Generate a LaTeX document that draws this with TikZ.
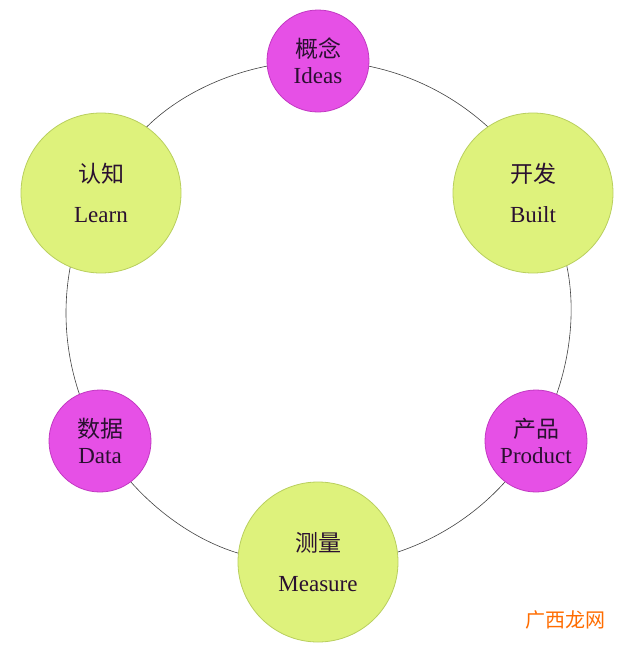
\documentclass[tikz,border=0pt]{standalone}
\usepackage{fontspec}
\setmainfont{Liberation Serif}
\newfontfamily\cjk{Noto Sans CJK SC}
\usetikzlibrary{arrows.meta}
\definecolor{gfill}{HTML}{DEF27C}
\definecolor{gline}{HTML}{B9CF5E}
\definecolor{mfill}{HTML}{E650E6}
\definecolor{mline}{HTML}{C238C2}
\definecolor{txt}{HTML}{2A1030}
\tikzset{
 big/.style={circle,fill=gfill,draw=gline,line width=0.8pt,minimum size=160pt,inner sep=0pt,align=center,text=txt,font=\fontsize{23}{40}\selectfont},
 small/.style={circle,fill=mfill,draw=mline,line width=0.8pt,minimum size=102pt,inner sep=0pt,align=center,text=txt,font=\fontsize{23}{32}\selectfont},
 ring/.style={draw=black!75,line width=0.6pt},
 tip/.style={-{Latex[length=15pt,width=11pt]}}
}
\begin{document}
\begin{tikzpicture}[x=1pt,y=-1pt]
\useasboundingbox (0,0) rectangle (640,648);
\coordinate (o) at (318,313);
% ring
\draw[ring] (o) ++(90:252) arc[start angle=90,end angle=29,radius=252];
\draw[ring,tip] (o) ++(29:252) arc[start angle=29,end angle=-19,radius=252];
\draw[ring] (o) ++(-30:252) arc[start angle=-30,end angle=-90,radius=252];
\draw[ring,tip] (o) ++(-90:252) arc[start angle=-90,end angle=-138.5,radius=252];
\draw[ring] (o) ++(-150:252) arc[start angle=-150,end angle=-210,radius=252];
\draw[ring,tip] (o) ++(150:252) arc[start angle=150,end angle=101.5,radius=252];
% nodes
\node[small] (ideas) at (318,61) {{\cjk 概念}\\[-6pt]Ideas};
\node[big] (built) at (533,193) {{\cjk 开发}\\Built};
\node[small] (product) at (536,441) {{\cjk 产品}\\[-6pt]Product};
\node[big] (measure) at (318,562) {{\cjk 测量}\\Measure};
\node[small] (data) at (100,441) {{\cjk 数据}\\[-6pt]Data};
\node[big] (learn) at (101,193) {{\cjk 认知}\\Learn};
\node[text=orange!85!red,font=\cjk\fontsize{20}{20}\selectfont] (wm) at (565,620) {广西龙网};
\end{tikzpicture}
\end{document}
